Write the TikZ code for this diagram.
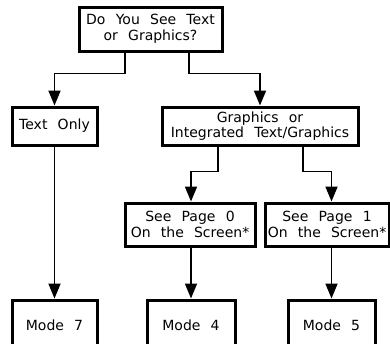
\documentclass[tikz,border=0pt]{standalone}
\usepackage{fontspec}
\setmainfont{DejaVu Sans}[WordSpace=2.3]
\usetikzlibrary{arrows.meta}
\begin{document}
\begin{tikzpicture}[x=1pt, y=-1pt,
    box/.style={draw, rectangle, line width=3pt, align=center, inner sep=0pt,
        font=\fontsize{14}{15.5}\selectfont},
    link/.style={line width=1.8pt, -{Triangle[length=15pt,width=12pt]}}]
    \useasboundingbox (0,0) rectangle (390,343);
    \clip (0,0) rectangle (390,343);

    \node[box, minimum width=143pt, minimum height=44pt] (question) at (150.5,29) {Do You See Text\\or Graphics?};
    \node[box, minimum width=85pt, minimum height=38pt] (textonly) at (54.5,126) {Text Only};
    \node[box, minimum width=196pt, minimum height=38pt] (graphics) at (260,126) {Graphics or\\Integrated Text/Graphics};
    \node[box, minimum width=130pt, minimum height=43pt] (page0) at (190,224.5) {See Page 0\\On the Screen*};
    \node[box, minimum width=124pt, minimum height=43pt] (page1) at (327,224.5) {See Page 1\\On the Screen*};
    \node[box, minimum width=85pt, minimum height=50pt] (mode7) at (54.5,325) {Mode 7};
    \node[box, minimum width=88pt, minimum height=50pt] (mode4) at (191,325) {Mode 4};
    \node[box, minimum width=87pt, minimum height=50pt] (mode5) at (331.5,325) {Mode 5};

    \draw[link] ([xshift=-25.5pt]question.south) -- ++(0,21) -| (textonly.north);
    \draw[link] ([xshift=38.5pt]question.south) -- ++(0,21) -| (graphics.north);
    \draw[link] ([xshift=-42pt]graphics.south) -- ++(0,25) -| (page0.north -| mode4.north);
    \draw[link] ([xshift=43pt]graphics.south) -- ++(0,25) -| (page1.north -| mode5.north);
    \draw[link] (textonly.south -| mode7.north) -- (mode7.north);
    \draw[link] (page0.south -| mode4.north) -- (mode4.north);
    \draw[link] (page1.south -| mode5.north) -- (mode5.north);
\end{tikzpicture}
\end{document}
